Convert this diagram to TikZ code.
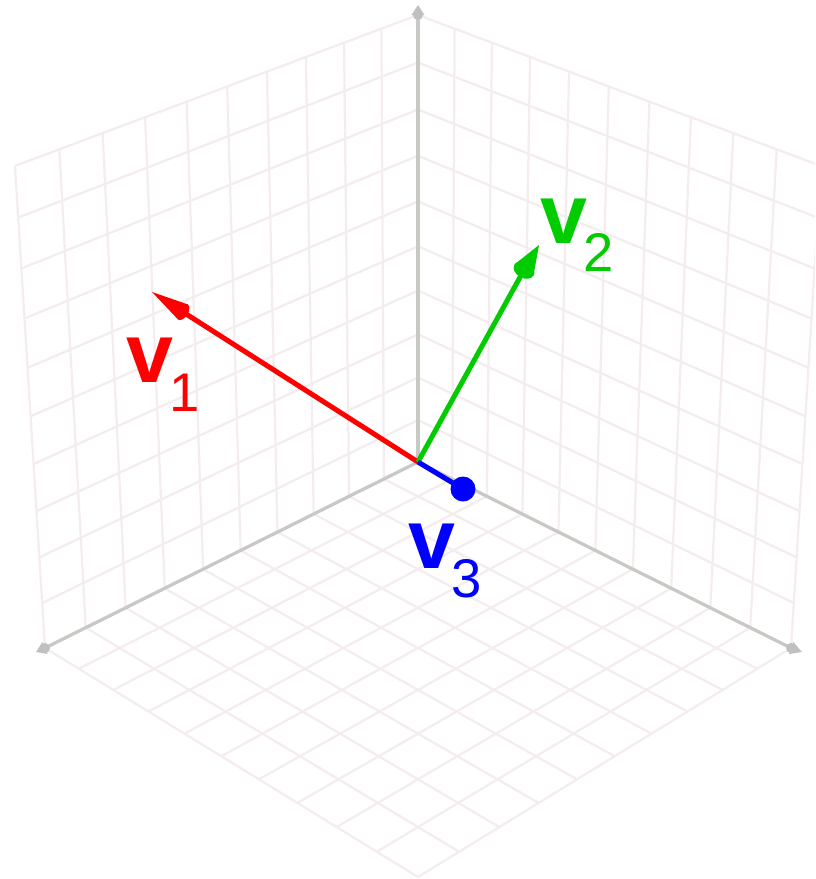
\documentclass[tikz,border=0pt]{standalone}
\usepackage{fontspec}
\setmainfont{Liberation Sans}
\usetikzlibrary{calc}

\definecolor{gridpink}{RGB}{244,236,238}
\definecolor{axisgray}{RGB}{200,200,196}
\definecolor{tipgray}{RGB}{192,192,192}
\definecolor{vecgreen}{RGB}{0,204,0}

\begin{document}
\begin{tikzpicture}[
  x=0.02cm, y=-0.02cm,
  declare function={
    pw(\x,\y,\z)=1-0.00939*(\x+\y)-0.00674*\z;
    px(\x,\y,\z)=418+33.8*(\y-\x)/pw(\x,\y,\z);
    py(\x,\y,\z)=(462+12.52*(\x+\y)-44.8*\z)/pw(\x,\y,\z);
  },
  gridline/.style={draw=gridpink, line width=0.045cm},
  axisline/.style={draw=axisgray, line width=0.065cm},
  axistip/.style={fill=tipgray},
  vecline/.style={line width=0.1cm},
  veclabel/.style={anchor=base west, inner sep=0pt, font=\fontsize{48}{50}\selectfont\bfseries}
]
\useasboundingbox (0,0) rectangle (815,879);
\clip (0,0) rectangle (815,879);

% back walls and floor
\foreach \i in {0,...,10} {
  \draw[gridline] ({px(\i,0,0)},{py(\i,0,0)}) -- ({px(\i,0,10)},{py(\i,0,10)});
  \draw[gridline] ({px(0,0,\i)},{py(0,0,\i)}) -- ({px(10,0,\i)},{py(10,0,\i)});
  \draw[gridline] ({px(0,\i,0)},{py(0,\i,0)}) -- ({px(0,\i,10)},{py(0,\i,10)});
  \draw[gridline] ({px(0,0,\i)},{py(0,0,\i)}) -- ({px(0,10,\i)},{py(0,10,\i)});
  \draw[gridline] ({px(\i,0,0)},{py(\i,0,0)}) -- ({px(\i,10,0)},{py(\i,10,0)});
  \draw[gridline] ({px(0,\i,0)},{py(0,\i,0)}) -- ({px(10,\i,0)},{py(10,\i,0)});
}

\coordinate (O)    at ({px(0,0,0)},{py(0,0,0)});
\coordinate (xend) at ({px(10,0,0)},{py(10,0,0)});
\coordinate (yend) at ({px(0,10,0)},{py(0,10,0)});
\coordinate (zend) at ({px(0,0,10)},{py(0,0,10)});
\coordinate (xtip) at (36,652);
\coordinate (ytip) at (802,652);
\coordinate (ztip) at (418,5);

\draw[axisline] (O) -- (xend);
\draw[axisline] (O) -- (yend);
\draw[axisline] (O) -- (zend);
\foreach \e/\t in {xend/xtip, yend/ytip, zend/ztip} {
  \fill[axistip] (\t) -- ($(\e)!0.13cm!90:(\t)$) -- ($(\e)!0.13cm!-90:(\t)$) -- cycle;
  \fill[axistip] (\e) circle [radius=5];
}

\coordinate (v1base) at (183,312);
\coordinate (v1tip)  at (152,292);
\coordinate (v2base) at (524,270);
\coordinate (v2tip)  at (539,245);
\coordinate (v3end)  at (463,489);

\draw[vecline, red] (O) -- (v1base);
\fill[red] (v1tip) -- ($(v1base)!0.18cm!90:(v1tip)$) -- ($(v1base)!0.18cm!-90:(v1tip)$) -- cycle;
\fill[red, rotate around={147.4:(v1base)}] (v1base) ellipse [x radius=5, y radius=9];

\draw[vecline, vecgreen] (O) -- (v2base);
\fill[vecgreen] (v2tip) -- ($(v2base)!0.22cm!90:(v2tip)$) -- ($(v2base)!0.22cm!-90:(v2tip)$) -- cycle;
\fill[vecgreen, rotate around={61.3:(v2base)}] (v2base) ellipse [x radius=8, y radius=11];

\draw[vecline, blue] (O) -- (v3end);
\fill[blue] (v3end) circle [radius=12.5];

\node[veclabel, red]      (v1label) at (126.5,382)
  {v\kern-0.08cm\raisebox{-0.6cm}{\fontsize{31}{33}\selectfont\mdseries 1}};
\node[veclabel, vecgreen] (v2label) at (540.5,243)
  {v\kern-0.08cm\raisebox{-0.58cm}{\fontsize{31}{33}\selectfont\mdseries 2}};
\node[veclabel, blue]     (v3label) at (408.5,568)
  {v\kern-0.08cm\raisebox{-0.58cm}{\fontsize{31}{33}\selectfont\mdseries 3}};
\end{tikzpicture}
\end{document}
